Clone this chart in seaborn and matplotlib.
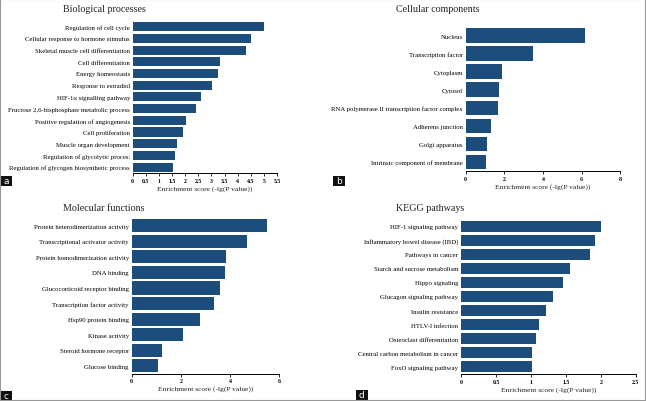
import matplotlib
matplotlib.use("Agg")
import matplotlib.pyplot as plt
import seaborn as sns
import pandas as pd
from matplotlib.patches import Rectangle

# panel a
bp_terms = ["Regulation of cell cycle", "Cellular response to hormone stimulus",
            "Skeletal muscle cell differentiation", "Cell differentiation",
            "Energy homeostasis", "Response to estradiol", "HIF-1\u03b1 signalling pathway",
            "Fructose 2,6-bisphosphate metabolic process",
            "Positive regulation of angiogenesis", "Cell proliferation",
            "Muscle organ development", "Regulation of glycolytic proces:",
            "Regulation of glycogen biosynthetic process"]
bp_scores = [5.02, 4.49, 4.33, 3.34, 3.27, 3.02, 2.59, 2.41, 2.03, 1.92, 1.69, 1.61, 1.52]
bp_ticks = [0, 0.5, 1, 1.5, 2, 2.5, 3, 3.5, 4, 4.5, 5, 5.5]

# panel b
cc_terms = ["Nucleus", "Transcription factor", "Cytoplasm", "Cytosol",
            "RNA polymerase II transcription factor complex", "Adherens junction",
            "Golgi apparatus", "Intrinsic component of membrane"]
cc_scores = [6.17, 3.48, 1.88, 1.71, 1.67, 1.29, 1.09, 1.05]
cc_ticks = [0, 2, 4, 6, 8]

# panel c
mf_terms = ["Protein heterodimerization activity", "Transcriptional activator activity",
            "Protein homodimerization activity", "DNA binding",
            "Glucocorticoid receptor binding", "Transcription factor activity",
            "Hsp90 protein binding", "Kinase activity", "Steroid hormone receptor",
            "Glucose binding"]
mf_scores = [5.51, 4.69, 3.85, 3.81, 3.59, 3.35, 2.79, 2.10, 1.22, 1.08]
mf_ticks = [0, 2, 4, 6]

# panel d
kegg_terms = ["HIF-1 signaling pathway", "Inflammatory bowel disease (IBD)",
              "Pathways in cancer", "Starch and sucrose metabolism", "Hippo signaling",
              "Glucagon signaling pathway", "Insulin resistance", "HTLV-I infection",
              "Osteoclast differentiation", "Central carbon metabolism in cancer",
              "FoxO signaling pathway"]
kegg_scores = [2.00, 1.92, 1.84, 1.56, 1.46, 1.32, 1.22, 1.12, 1.08, 1.02, 1.02]
kegg_ticks = [0, 0.5, 1, 1.5, 2, 2.5]

sns.set_theme(style="white")
plt.rcParams["font.family"] = ["Liberation Serif", "DejaVu Serif"]

W, H = 646, 402
fig = plt.figure(figsize=(W / 100, H / 100), dpi=100)
bar_color = "#1d4d7b"


def px_axes(x0, x1, y0, y1):
    return fig.add_axes([x0 / W, 1 - y1 / H, (x1 - x0) / W, (y1 - y0) / H])


panels = [
    ("Biological processes", bp_terms, bp_scores, bp_ticks, (132.7, 277, 21.8, 174), 0.78, (63, 9.5), "a", (0, 176.7)),
    ("Cellular components", cc_terms, cc_scores, cc_ticks, (465.7, 620.3, 27.5, 172), 0.8, (396, 9.5), "b", (333, 176.7)),
    ("Molecular functions", mf_terms, mf_scores, mf_ticks, (131.7, 279.3, 219, 374.5), 0.84, (63, 208.5), "c", (0, 391.5)),
    ("KEGG pathways", kegg_terms, kegg_scores, kegg_ticks, (461, 635.7, 220.2, 374.8), 0.78, (396, 209), "d", (356, 390.5)),
]

for title, terms, scores, ticks, box, width, tpos, letter, lpos in panels:
    ax = px_axes(*box)
    df = pd.DataFrame({"term": terms, "score": scores})
    sns.barplot(data=df, x="score", y="term", color=bar_color, width=width,
                saturation=1, ax=ax, edgecolor="none")
    ax.set_xlim(ticks[0], ticks[-1])
    ax.set_ylim(len(terms) - 0.5, -0.5)
    ax.set_xticks(ticks)
    ax.set_xticklabels([f"{t:g}" for t in ticks], fontsize=4.2, fontweight="bold")
    ax.tick_params(axis="x", direction="out", length=2, width=0.6, pad=1.5, bottom=True, colors="black")
    ax.tick_params(axis="y", length=0, pad=2, labelsize=4.9, colors="black")
    for s in ["top", "right", "left"]:
        ax.spines[s].set_visible(False)
    ax.spines["bottom"].set_color("black")
    ax.spines["bottom"].set_linewidth(0.7)
    ax.set_ylabel("")
    ax.set_xlabel("Enrichment score (-lg(P value))", fontsize=5.4, labelpad=1.5, color="#222222")
    fig.text(tpos[0] / W, 1 - tpos[1] / H, title, fontsize=7.2, va="center", ha="left", color="#222222")
    fig.patches.append(Rectangle((lpos[0] / W, 1 - (lpos[1] + 10) / H), 11.5 / W, 10 / H,
                                 transform=fig.transFigure, facecolor="#111111", edgecolor="none"))
    fig.text((lpos[0] + 5.75) / W, 1 - (lpos[1] + 5.3) / H, letter, color="white",
             fontsize=6.5, ha="center", va="center", family="DejaVu Sans")

fig.patches.append(Rectangle((0, 0), 1, 1, transform=fig.transFigure, facecolor="none",
                             edgecolor="#999999", linewidth=1.5))

fig.savefig("out.png", dpi=100)
